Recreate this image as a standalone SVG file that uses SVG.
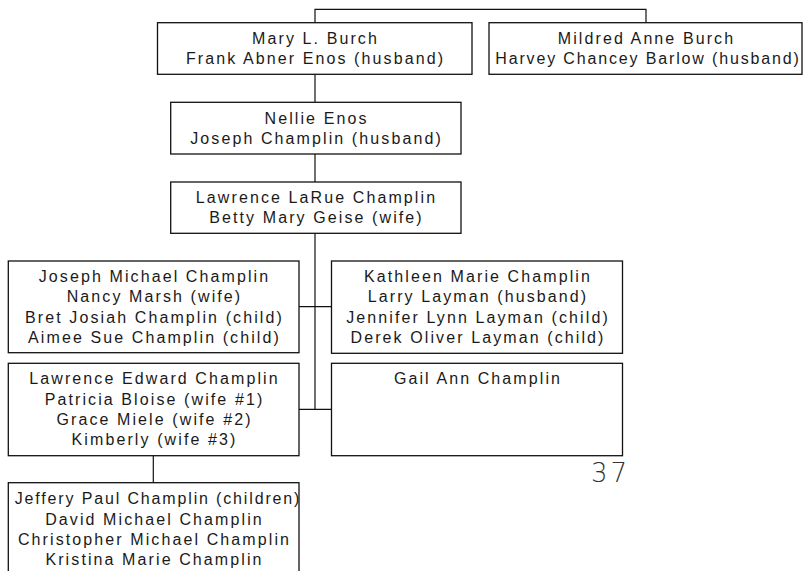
<svg xmlns="http://www.w3.org/2000/svg" width="803" height="571" viewBox="0 0 803 571">
<style>
.box{fill:#fff;stroke:#111;stroke-width:1.3}
.ln{stroke:#111;stroke-width:1.2;fill:none}
text{font-family:"Liberation Sans",Arial,sans-serif;font-size:16px;letter-spacing:2.1px;fill:#1a1a1a;text-anchor:middle}
.tight{letter-spacing:1.85px}
.pg{font-family:"DejaVu Sans","Liberation Sans",sans-serif;font-size:26px;font-weight:200;letter-spacing:3px;text-anchor:start;fill:#333}
</style>
<rect width="803" height="571" fill="#fff"/>
<g id="connectors">
<polyline class="ln" points="315,22.7 315,9.3 646,9.3 646,22.7"/>
<line class="ln" x1="315" y1="74.3" x2="315" y2="102.3"/>
<line class="ln" x1="315" y1="154" x2="315" y2="182"/>
<line class="ln" x1="315" y1="233.3" x2="315" y2="409.3"/>
<line class="ln" x1="299" y1="306.7" x2="331.5" y2="306.7"/>
<line class="ln" x1="299" y1="409.3" x2="331.5" y2="409.3"/>
<line class="ln" x1="153.3" y1="455.7" x2="153.3" y2="482.7"/>
</g>
<g id="mary">
<rect class="box" x="157.5" y="22.7" width="314.5" height="51.6"/>
<text x="315.5" y="44">Mary L. Burch</text>
<text x="315.5" y="64.3">Frank Abner Enos (husband)</text>
</g>
<g id="mildred">
<rect class="box" x="489" y="22.7" width="313" height="51.6"/>
<text x="646.5" y="44.3">Mildred Anne Burch</text>
<text class="tight" x="648" y="64.3">Harvey Chancey Barlow (husband)</text>
</g>
<g id="nellie">
<rect class="box" x="170.7" y="102.3" width="290.3" height="51.7"/>
<text x="316.5" y="124">Nellie Enos</text>
<text x="316.5" y="144">Joseph Champlin (husband)</text>
</g>
<g id="lawrence-larue">
<rect class="box" x="170.7" y="182" width="290.3" height="51.3"/>
<text x="316.5" y="203.3">Lawrence LaRue Champlin</text>
<text x="316.5" y="222.7">Betty Mary Geise (wife)</text>
</g>
<g id="joseph-michael">
<rect class="box" x="8.3" y="261" width="290.7" height="91.7"/>
<text x="154.5" y="281.7">Joseph Michael Champlin</text>
<text x="154.5" y="302">Nancy Marsh (wife)</text>
<text x="154.5" y="322.7">Bret Josiah Champlin (child)</text>
<text x="154.5" y="343.2">Aimee Sue Champlin (child)</text>
</g>
<g id="kathleen">
<rect class="box" x="331.5" y="261" width="291" height="92.3"/>
<text x="478" y="281.7">Kathleen Marie Champlin</text>
<text x="478" y="302">Larry Layman (husband)</text>
<text x="478" y="322.7">Jennifer Lynn Layman (child)</text>
<text x="478" y="343.2">Derek Oliver Layman (child)</text>
</g>
<g id="lawrence-edward">
<rect class="box" x="8.3" y="363.3" width="290.7" height="92.4"/>
<text x="154.5" y="383.5">Lawrence Edward Champlin</text>
<text x="154.5" y="404.5">Patricia Bloise (wife #1)</text>
<text x="154.5" y="425">Grace Miele (wife #2)</text>
<text x="154.5" y="445.3">Kimberly (wife #3)</text>
</g>
<g id="gail">
<rect class="box" x="331.5" y="363.3" width="291" height="92.4"/>
<text x="478" y="383.5">Gail Ann Champlin</text>
</g>
<g id="jeffery">
<rect class="box" x="8.3" y="482.7" width="290.7" height="100"/>
<text class="tight" x="158" y="504.3">Jeffery Paul Champlin (children)</text>
<text x="154.5" y="525">David Michael Champlin</text>
<text x="154.5" y="545">Christopher Michael Champlin</text>
<text x="154.5" y="565">Kristina Marie Champlin</text>
</g>
<text class="pg" x="591" y="482">37</text>
</svg>
